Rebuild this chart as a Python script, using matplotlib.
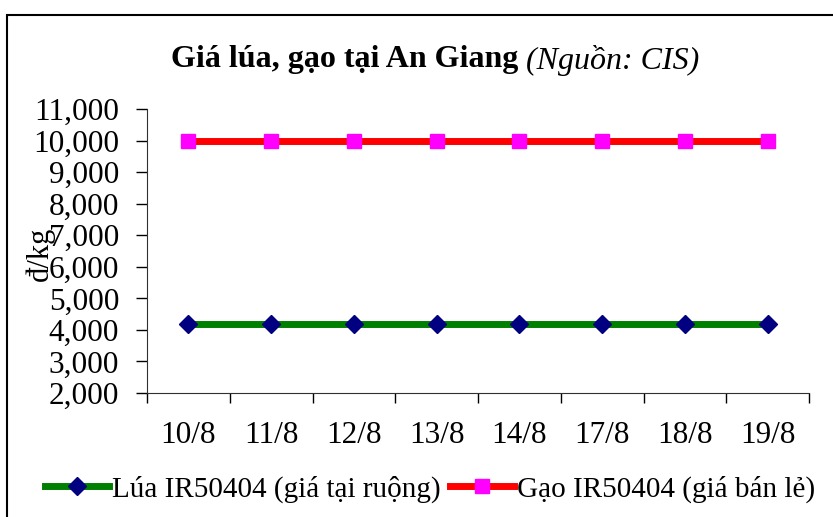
import matplotlib
matplotlib.use("Agg")
import matplotlib.pyplot as plt
from matplotlib.patches import Rectangle
from matplotlib.ticker import FuncFormatter

# dates (category labels) and prices in dong/kg
dates = ["10/8", "11/8", "12/8", "13/8", "14/8", "17/8", "18/8", "19/8"]
lua_ir50404 = [4200, 4200, 4200, 4200, 4200, 4200, 4200, 4200]
gao_ir50404 = [10000, 10000, 10000, 10000, 10000, 10000, 10000, 10000]

plt.rcParams["font.family"] = ["Liberation Serif", "DejaVu Serif"]

fig = plt.figure(figsize=(8.33, 5.17), dpi=100)
W, H = 833, 517

# outer chart frame (cut at right/bottom like the reference)
fig.patches.append(Rectangle((7 / W, -0.05), 1.2, 1 - 15 / H + 0.05,
                             transform=fig.transFigure, fill=False,
                             edgecolor="black", linewidth=1.5))

ax = fig.add_axes([147 / W, 1 - 393 / H, (809 - 147) / W, (393 - 109) / H])

x = list(range(len(dates)))
ax.plot(x, lua_ir50404, color="#008000", lw=5, marker="D", ms=9,
        mfc="#000080", mec="#000080", label="Lúa IR50404 (giá tại ruộng)")
ax.plot(x, gao_ir50404, color="#ff0000", lw=5, marker="s", ms=10.5,
        mfc="#ff00ff", mec="#ff00ff", label="Gạo IR50404 (giá bán lẻ)")

ax.set_xlim(-0.5, len(dates) - 0.5)
ax.set_ylim(2000, 11000)
ax.set_yticks(range(2000, 11001, 1000))
ax.yaxis.set_major_formatter(FuncFormatter(lambda v, p: f"{int(v):,}"))
ax.set_xticks(x)
ax.set_xticklabels(dates)
ax.set_xticks([i - 0.5 for i in range(len(dates) + 1)], minor=True)
ax.tick_params(axis="x", which="major", length=0, pad=20, labelsize=22.5)
ax.tick_params(axis="x", which="minor", length=7, width=1, direction="out")
ax.tick_params(axis="y", length=8, width=1, labelsize=22.5, pad=12)

for s in ["top", "right"]:
    ax.spines[s].set_visible(False)
for s in ["left", "bottom"]:
    ax.spines[s].set_color("#303030")

ax.set_ylabel("đ/kg", fontsize=22)
ax.yaxis.set_label_coords(-0.139, 0.49)

fig.text(526 / W, 1 - 60 / H, "Giá lúa, gạo tại An Giang ", fontsize=23,
         fontweight="bold", ha="right", va="center")
fig.text(526 / W, 1 - 60 / H, "(Nguồn: CIS)", fontsize=23,
         style="italic", ha="left", va="center")

fig.legend(loc="center", bbox_to_anchor=(430 / W, 1 - 489 / H), ncol=2,
           frameon=False, fontsize=21, handlelength=2.2, handletextpad=0.1,
           columnspacing=0.3, borderpad=0)

fig.savefig("out.png", dpi=100)
